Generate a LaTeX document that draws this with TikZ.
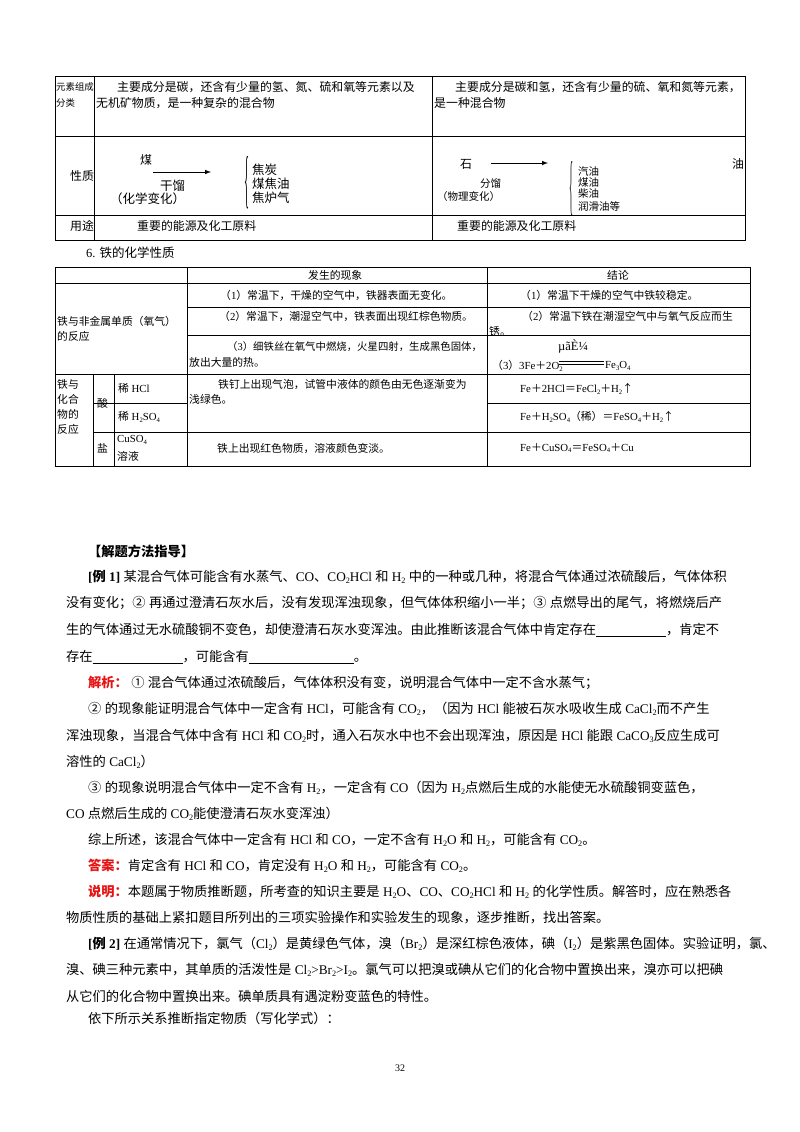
\documentclass[tikz,border=0pt]{standalone}
\usepackage{fontspec}
\setmainfont{Liberation Serif}
\newfontfamily\cjk{Noto Sans CJK SC}
\XeTeXinterchartokenstate=1
\newXeTeXintercharclass\cjkcls
\makeatletter
\count@="3000
\loop\XeTeXcharclass\count@=\cjkcls\ifnum\count@<"9FFF\advance\count@ 1\repeat
\count@="FF00
\loop\XeTeXcharclass\count@=\cjkcls\ifnum\count@<"FFEF\advance\count@ 1\repeat
\count@="2460
\loop\XeTeXcharclass\count@=\cjkcls\ifnum\count@<"24FF\advance\count@ 1\repeat
\XeTeXcharclass"2191=\cjkcls
\makeatother
\XeTeXinterchartoks 0 \cjkcls = {\begingroup\cjk}
\XeTeXinterchartoks 4095 \cjkcls = {\begingroup\cjk}
\XeTeXinterchartoks \cjkcls 0 = {\endgroup}
\XeTeXinterchartoks \cjkcls 4095 = {\endgroup}
\newcommand\sbs[1]{\raisebox{-0.35ex}{\fontsize{0.62em}{0.7em}\selectfont #1}}
\newcommand\blank[1]{\rule[-2pt]{#1pt}{0.5pt}}
\definecolor{redtxt}{RGB}{230,20,20}
\begin{document}
\begin{tikzpicture}[x=1pt,y=-1pt,
  tl/.style={draw=black,line width=0.8pt},
  tline/.style={draw=black,line width=0.6pt},
  body/.style={anchor=west,inner sep=0pt,font=\fontsize{13.25}{15}\selectfont},
  tb/.style={anchor=west,inner sep=0pt,font=\fontsize{10.8}{12}\selectfont},
  ta/.style={anchor=west,inner sep=0pt,font=\fontsize{11.9}{13}\selectfont},
  big/.style={anchor=west,inner sep=0pt,font=\fontsize{12.5}{13}\selectfont},
  sm/.style={anchor=west,inner sep=0pt,font=\fontsize{10.5}{11}\selectfont}]
\useasboundingbox (0,0) rectangle (800,1132);
% ---- table 1
\draw[tl] (55,76) rectangle (745,240);
\draw[tl] (55,136) -- (745,136);
\draw[tl] (55,215) -- (745,215);
\draw[tl] (94,76) -- (94,240);
\draw[tl] (432,76) -- (432,240);
\node[sm,font=\fontsize{9.4}{11}\selectfont] (a1) at (56,87) {元素组成};
\node[sm,font=\fontsize{9.4}{11}\selectfont] (a2) at (56,103) {分类};
\node[ta] (a3) at (117,87) {主要成分是碳，还含有少量的氢、氮、硫和氧等元素以及};
\node[ta] (a4) at (96,103) {无机矿物质，是一种复杂的混合物};
\node[ta] (a5) at (455,87) {主要成分是碳和氢，还含有少量的硫、氧和氮等元素，};
\node[ta] (a6) at (434,103) {是一种混合物};
\node[ta] (a7) at (70,176) {性质};
\node[ta] (a8) at (70,226) {用途};
\node[ta] (a9) at (137,226) {重要的能源及化工原料};
\node[ta] (a10) at (457,226) {重要的能源及化工原料};
\node[ta] (coal) at (140,160) {煤};
\coordinate (c1) at (153,172); \coordinate (c2) at (211,172);
\draw[-latex,line width=1pt] (c1) -- (c2);
\node[big] (gl) at (160,186) {干馏};
\node[big] (gl2) at (110,199) {（化学变化）};
\node[inner sep=0pt] (br1) at (247,183) {\resizebox{5pt}{44pt}{\{}};
\node[big] (p1) at (252,170) {焦炭};
\node[big] (p2) at (252,184) {煤焦油};
\node[big] (p3) at (252,198) {焦炉气};
\node[ta] (shi) at (460,164) {石};
\coordinate (o1) at (491,163); \coordinate (o2) at (548,163);
\draw[-latex,line width=1pt] (o1) -- (o2);
\node[ta] (you) at (732,164) {油};
\node[sm] (fl) at (480,184) {分馏};
\node[sm] (fl2) at (437,197) {（物理变化）};
\node[inner sep=0pt] (br2) at (571,189) {\resizebox{4pt}{46pt}{\{}};
\node[sm] (q1) at (578,172) {汽油};
\node[sm] (q2) at (578,183) {煤油};
\node[sm] (q3) at (578,194) {柴油};
\node[sm] (q4) at (578,206) {润滑油等};
\node[anchor=west,inner sep=0pt,font=\fontsize{12.5}{14}\selectfont] (h6) at (86,253) {6. 铁的化学性质};
% ---- table 2
\draw[tline] (55,267) rectangle (750,466);
\draw[tline] (55,283) -- (750,283);
\draw[tline] (187,307) -- (750,307);
\draw[tline] (187,335) -- (750,335);
\draw[tline] (55,374) -- (750,374);
\draw[tline] (93,403) -- (187,403);
\draw[tline] (487,403) -- (750,403);
\draw[tline] (93,432) -- (750,432);
\draw[tline] (187,267) -- (187,466);
\draw[tline] (487,267) -- (487,466);
\draw[tline] (93,374) -- (93,466);
\draw[tline] (114,374) -- (114,466);
\node[tb] (h1) at (308,275) {发生的现象};
\node[tb] (h2) at (607,275) {结论};
\node[tb] (r1) at (57,321) {铁与非金属单质（氧气）};
\node[tb] (r1b) at (57,336) {的反应};
\node[tb] (f1) at (220,295) {（1）常温下，干燥的空气中，铁器表面无变化。};
\node[tb] (f2) at (219,316) {（2）常温下，潮湿空气中，铁表面出现红棕色物质。};
\node[tb,font=\fontsize{10.4}{12}\selectfont] (f3) at (227,347) {（3）细铁丝在氧气中燃烧，火星四射，生成黑色固体，};
\node[tb] (f3b) at (189,362) {放出大量的热。};
\node[tb] (g1) at (520,295) {（1）常温下干燥的空气中铁较稳定。};
\node[tb] (g2) at (522,316) {（2）常温下铁在潮湿空气中与氧气反应而生};
\node[tb] (g2b) at (489,331) {锈。};
\node[anchor=west,inner sep=0pt,font=\fontsize{12.5}{14}\selectfont] (g3a) at (558,346) {µãÈ¼};
\node[tb] (g3) at (492,366) {（3）3Fe＋2O\sbs{2}};
\coordinate (e1) at (559,361); \coordinate (e2) at (604,361);
\coordinate (e3) at (559,364); \coordinate (e4) at (604,364);
\draw[line width=0.7pt] (e1) -- (e2); \draw[line width=0.7pt] (e3) -- (e4);
\node[tb] (g3c) at (605,366) {Fe\sbs{3}O\sbs{4}};
\node[tb] (s1) at (57,384) {铁与};
\node[tb] (s2) at (57,399) {化合};
\node[tb] (s3) at (57,414) {物的};
\node[tb] (s4) at (57,429) {反应};
\node[tb] (acid) at (97,403) {酸};
\node[tb] (salt) at (97,448) {盐};
\node[tb] (hcl) at (118,388) {稀 HCl};
\node[tb] (hso) at (118,417) {稀 H\sbs{2}SO\sbs{4}};
\node[tb] (cus) at (117,440) {CuSO\sbs{4}};
\node[tb] (cus2) at (117,456) {溶液};
\node[tb] (k1) at (218,384) {铁钉上出现气泡，试管中液体的颜色由无色逐渐变为};
\node[tb] (k1b) at (189,399) {浅绿色。};
\node[tb] (k2) at (217,448) {铁上出现红色物质，溶液颜色变淡。};
\node[tb] (m1) at (520,389) {Fe＋2HCl＝FeCl\sbs{2}＋H\sbs{2}↑};
\node[tb] (m2) at (520,417) {Fe＋H\sbs{2}SO\sbs{4}（稀）＝FeSO\sbs{4}＋H\sbs{2}↑};
\node[tb] (m3) at (520,448) {Fe＋CuSO\sbs{4}＝FeSO\sbs{4}＋Cu};
% ---- text
\node[body,font=\fontsize{13.25}{15}\selectfont\bfseries] (t0) at (88,551) {【解题方法指导】};
\node[body] (t1) at (88,577) {\textbf{[例 1]} 某混合气体可能含有水蒸气、CO、CO\sbs{2}HCl 和 H\sbs{2} 中的一种或几种，将混合气体通过浓硫酸后，气体体积};
\node[body] (t2) at (66,603) {没有变化；② 再通过澄清石灰水后，没有发现浑浊现象，但气体体积缩小一半；③ 点燃导出的尾气，将燃烧后产};
\node[body] (t3) at (66,630) {生的气体通过无水硫酸铜不变色，却使澄清石灰水变浑浊。由此推断该混合气体中肯定存在\blank{70}，肯定不};
\node[body] (t4) at (66,657) {存在\blank{90}，可能含有\blank{105}。};
\node[body] (t5) at (88,683) {\textcolor{redtxt}{\bfseries 解析：} ① 混合气体通过浓硫酸后，气体体积没有变，说明混合气体中一定不含水蒸气；};
\node[body] (t6) at (88,709) {② 的现象能证明混合气体中一定含有 HCl，可能含有 CO\sbs{2}，（因为 HCl 能被石灰水吸收生成 CaCl\sbs{2}而不产生};
\node[body] (t7) at (66,736) {浑浊现象，当混合气体中含有 HCl 和 CO\sbs{2}时，通入石灰水中也不会出现浑浊，原因是 HCl 能跟 CaCO\sbs{3}反应生成可};
\node[body] (t8) at (66,762) {溶性的 CaCl\sbs{2}）};
\node[body] (t9) at (88,788) {③ 的现象说明混合气体中一定不含有 H\sbs{2}，一定含有 CO（因为 H\sbs{2}点燃后生成的水能使无水硫酸铜变蓝色，};
\node[body] (t10) at (66,814) {CO 点燃后生成的 CO\sbs{2}能使澄清石灰水变浑浊）};
\node[body] (t11) at (88,840) {综上所述，该混合气体中一定含有 HCl 和 CO，一定不含有 H\sbs{2}O 和 H\sbs{2}，可能含有 CO\sbs{2}。};
\node[body] (t12) at (88,866) {\textcolor{redtxt}{\bfseries 答案：}肯定含有 HCl 和 CO，肯定没有 H\sbs{2}O 和 H\sbs{2}，可能含有 CO\sbs{2}。};
\node[body] (t13) at (88,892) {\textcolor{redtxt}{\bfseries 说明：}本题属于物质推断题，所考查的知识主要是 H\sbs{2}O、CO、CO\sbs{2}HCl 和 H\sbs{2} 的化学性质。解答时，应在熟悉各};
\node[body] (t14) at (66,918) {物质性质的基础上紧扣题目所列出的三项实验操作和实验发生的现象，逐步推断，找出答案。};
\node[body] (t15) at (88,944) {\textbf{[例 2]} 在通常情况下，氯气（Cl\sbs{2}）是黄绿色气体，溴（Br\sbs{2}）是深红棕色液体，碘（I\sbs{2}）是紫黑色固体。实验证明，氯、};
\node[body] (t16) at (66,970) {溴、碘三种元素中，其单质的活泼性是 Cl\sbs{2}>Br\sbs{2}>I\sbs{2}。氯气可以把溴或碘从它们的化合物中置换出来，溴亦可以把碘};
\node[body] (t17) at (66,996) {从它们的化合物中置换出来。碘单质具有遇淀粉变蓝色的特性。};
\node[body] (t18) at (88,1018) {依下所示关系推断指定物质（写化学式）：};
\node[inner sep=0pt,font=\fontsize{10}{12}\selectfont] (pg) at (400,1068) {32};
\end{tikzpicture}
\end{document}
